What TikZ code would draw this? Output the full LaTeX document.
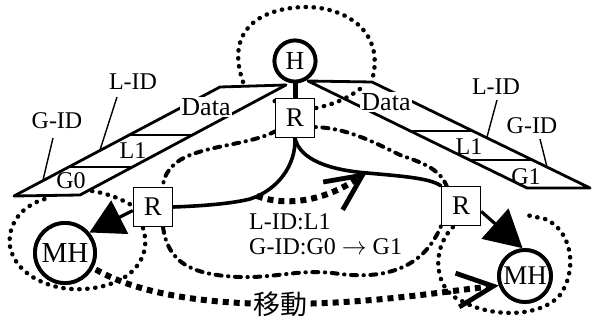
\documentclass[tikz,border=0pt]{standalone}
\usepackage{fontspec}
\setmainfont{Liberation Serif}
\newfontfamily\jpfont{Noto Sans CJK JP}
\usetikzlibrary{arrows.meta}
\begin{document}
\begin{tikzpicture}[x=1pt,y=-1pt,
  lbl/.style={font=\fontsize{24}{25}\selectfont, inner sep=1pt},
  router/.style={draw, line width=1.5pt, minimum size=39pt, inner sep=0pt, fill=white, font=\fontsize{27}{27}\selectfont},
  host/.style={draw, circle, line width=3.8pt, inner sep=0pt, fill=white, font=\fontsize{26}{26}\selectfont},
  pkt/.style={line width=2.8pt, line cap=round, line join=round},
  ptr/.style={line width=1.4pt},
  tree/.style={line width=3.6pt, line cap=round},
  rdots/.style={line width=4.4pt, line cap=round, dash pattern=on 0.4pt off 7.6pt},
  dashdot/.style={line width=4pt, line cap=round, dash pattern=on 6pt off 6.5pt on 0.4pt off 6.5pt},
  sqdots/.style={line width=6pt, dash pattern=on 6pt off 5pt},
  barb/.style={-{Straight Barb[length=36pt,width=34pt,line width=4.8pt]}},
  fat/.style={line width=3.2pt, -{Triangle[length=34pt,width=37pt]}},
]
\useasboundingbox (0,0) rectangle (592,320);

% nodes (positions)
\node[host, minimum size=41pt] (H) at (295,61) {H};
\node[router] (Rt) at (295,118) {R};
\node[router] (Rl) at (153,207) {R};
\node[router] (Rr) at (461,206) {R};
\node[host, minimum size=60pt, font=\fontsize{29}{29}\selectfont] (Ml) at (65,253) {MH};
\node[host, minimum size=52pt, font=\fontsize{27}{27}\selectfont] (Mr) at (525,276) {MH};

% dotted arc around H
\draw[rdots] (243,82) .. controls (225,30) and (260,8) .. (305,7)
  .. controls (350,7) and (385,35) .. (372,80);

% network boundary (dash-dot)
\draw[dashdot] (276,131) .. controls (250,145) and (205,145) .. (180,160)
  .. controls (168,168) and (163,178) .. (163,187);
\draw[dashdot] (163,227) .. controls (168,262) and (190,275) .. (240,277)
  .. controls (280,278) and (300,268) .. (340,274)
  .. controls (390,280) and (425,265) .. (441,226);
\draw[dashdot] (447,187) .. controls (440,168) and (420,162) .. (400,155)
  .. controls (370,140) and (345,128) .. (315,127);

% data dots near top R
\draw[rdots] (316,108) .. controls (335,104) and (348,98) .. (360,89);
\draw[rdots] (275,101) -- (268,104);

% cells around MHs
\draw[rdots] (92,191) .. controls (105,193) and (120,198) .. (133,206);
\draw[rdots] (143,228) .. controls (152,255) and (135,285) .. (85,289)
  .. controls (40,292) and (5,265) .. (10,235)
  .. controls (13,215) and (30,203) .. (45,199);
\draw[rdots] (453,227) .. controls (430,250) and (435,290) .. (460,300)
  .. controls (490,318) and (540,318) .. (560,295)
  .. controls (578,270) and (572,230) .. (545,219) -- (522,214);

% left packet
\draw[pkt] (14,196) -- (80,195) -- (286,85);
\draw[pkt] (14,196) -- (220,87) -- (286,85);
\draw[pkt] (70,167) -- (132,167);
\draw[pkt] (130,135) -- (192,135);
% right packet
\draw[pkt] (308,81) -- (372,82) -- (590,188) -- (527,188) -- cycle;
\draw[pkt] (410,131) -- (473,131);
\draw[pkt] (470,160) -- (532,160);

% tree
\draw[line width=5pt] (H.south) -- (Rt.north);
\draw[tree] (Rt.south) .. controls (296,165) and (278,190) .. (250,199)
  .. controls (230,204) and (200,206) .. (Rl.east);
\draw[tree] (Rt.south) .. controls (300,160) and (330,170) .. (367,173)
  .. controls (400,176) and (430,178) .. (Rr.north west);

% routers to hosts
\draw[fat] (Rl.190) -- (Ml.40);
\draw[fat, -{Triangle[length=37pt,width=40pt]}] (Rr.-15) -- (Mr.95);

% moving arrows
\coordinate (m1) at (257,196);
\coordinate (m2) at (367,172);
\draw[sqdots, barb] (m1) .. controls (280,205) and (320,205) .. (m2);
\draw[sqdots, barb, shorten <=3pt] (Ml.-28) .. controls (140,295) and (210,304) .. (280,304)
  .. controls (370,304) and (440,292) .. (Mr.200);

% redraw nodes on top
\node[host, minimum size=41pt] at (H) {H};
\node[router] at (Rt) {R};
\node[router] at (Rl) {R};
\node[router] at (Rr) {R};
\node[host, minimum size=60pt, font=\fontsize{29}{29}\selectfont] at (Ml) {MH};
\node[host, minimum size=52pt, font=\fontsize{27}{27}\selectfont] at (Mr) {MH};

% packet labels
\node[lbl, fill=white, font=\fontsize{26}{26}\selectfont] (dl) at (206,107) {Data};
\node[lbl, fill=white, font=\fontsize{26}{26}\selectfont] (dr) at (386,102) {Data};
\node[lbl] (l1l) at (133,151) {L1};
\node[lbl] (g0) at (71,181) {G0};
\node[lbl] (l1r) at (469,147) {L1};
\node[lbl] (g1) at (526,177) {G1};

\node[lbl] (lidl) at (133,82) {L-ID};
\node[lbl] (gidl) at (57,121) {G-ID};
\node[lbl] (lidr) at (496,87) {L-ID};
\node[lbl] (gidr) at (532,126) {G-ID};
\draw[ptr] (117,97) -- (100,150);
\draw[ptr] (53,138) -- (43,180);
\draw[ptr] (497,100) -- (487,137);
\draw[ptr] (540,139) -- (547,167);

% middle text
\node[lbl, anchor=west] (t1) at (248,222) {L-ID:L1};
\node[lbl, anchor=west] (t2) at (248,247) {G-ID:G0 $\rightarrow$ G1};

% move label
\node[fill=white, inner sep=1pt, font=\jpfont\fontsize{27}{28}\selectfont] (mv) at (280,304) {移動};
\end{tikzpicture}
\end{document}
